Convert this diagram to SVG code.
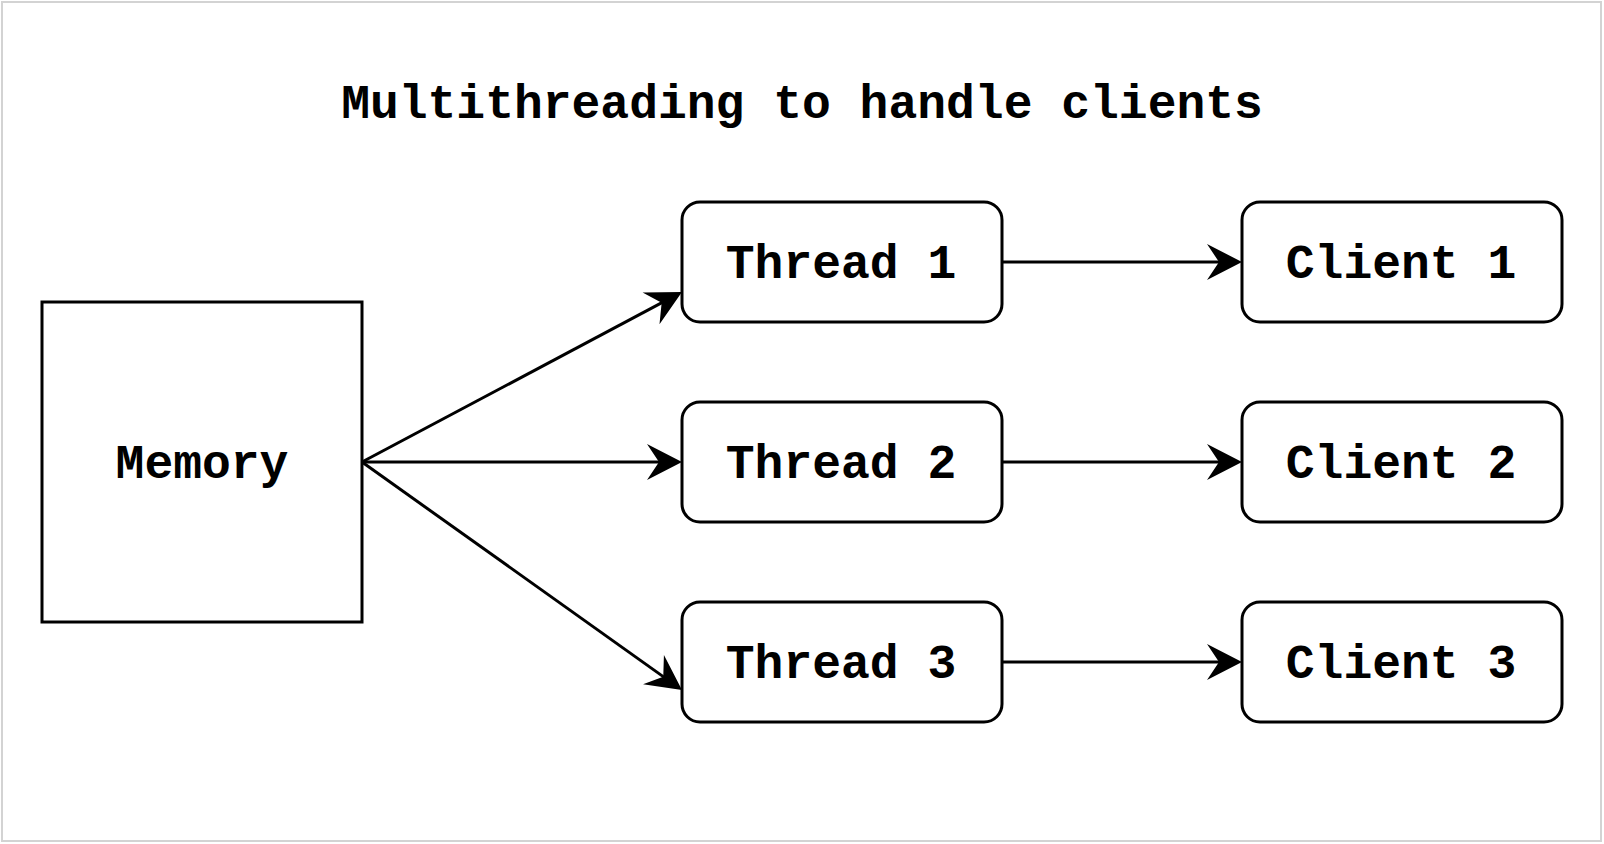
<svg xmlns="http://www.w3.org/2000/svg" width="1604" height="844" viewBox="0 0 1604 844">
<style>
.box{fill:#fff;stroke:#000;stroke-width:3}
.lbl{font-family:"Liberation Mono","Courier New",monospace;font-weight:bold;font-size:48px;fill:#000;text-anchor:middle}
.edge{fill:none;stroke:#000;stroke-width:3}
</style>
<defs>
<marker id="arr" markerUnits="userSpaceOnUse" markerWidth="80" markerHeight="80" refX="0" refY="0" orient="auto" overflow="visible">
<path d="M20,0 L-15,-18 L-3,0 L-15,18 Z" fill="#000" stroke="none"/>
</marker>
</defs>
<rect x="2" y="2" width="1599" height="839" fill="#fff" stroke="#d3d3d3" stroke-width="2"/>
<text class="lbl" x="802" y="118">Multithreading to handle clients</text>
<g id="connectors">
<path class="edge" d="M362,462 L664.3,301.4" marker-end="url(#arr)"/>
<path class="edge" d="M362,462 L662,462" marker-end="url(#arr)"/>
<path class="edge" d="M362,462 L665.7,678.4" marker-end="url(#arr)"/>
<path class="edge" d="M1002,262 L1222,262" marker-end="url(#arr)"/>
<path class="edge" d="M1002,462 L1222,462" marker-end="url(#arr)"/>
<path class="edge" d="M1002,662 L1222,662" marker-end="url(#arr)"/>
</g>
<g id="memory">
<rect class="box" x="42" y="302" width="320" height="320"/>
<text class="lbl" x="202" y="478">Memory</text>
</g>
<g id="thread1">
<rect class="box" x="682" y="202" width="320" height="120" rx="18"/>
<text class="lbl" x="841" y="278">Thread 1</text>
</g>
<g id="thread2">
<rect class="box" x="682" y="402" width="320" height="120" rx="18"/>
<text class="lbl" x="841" y="478">Thread 2</text>
</g>
<g id="thread3">
<rect class="box" x="682" y="602" width="320" height="120" rx="18"/>
<text class="lbl" x="841" y="678">Thread 3</text>
</g>
<g id="client1">
<rect class="box" x="1242" y="202" width="320" height="120" rx="18"/>
<text class="lbl" x="1401" y="278">Client 1</text>
</g>
<g id="client2">
<rect class="box" x="1242" y="402" width="320" height="120" rx="18"/>
<text class="lbl" x="1401" y="478">Client 2</text>
</g>
<g id="client3">
<rect class="box" x="1242" y="602" width="320" height="120" rx="18"/>
<text class="lbl" x="1401" y="678">Client 3</text>
</g>
</svg>
